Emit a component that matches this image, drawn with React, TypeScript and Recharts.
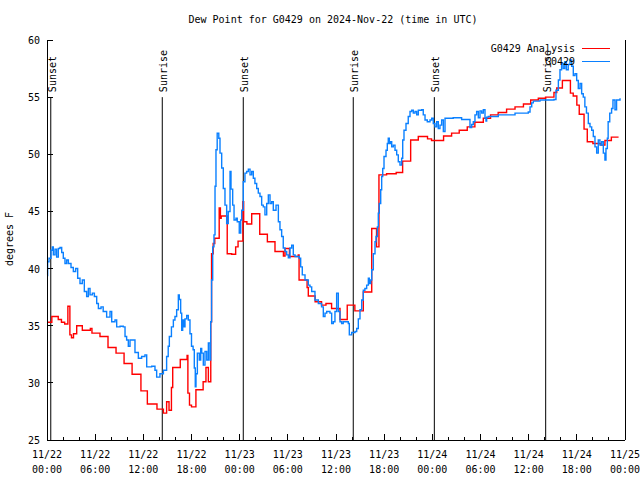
import React from "react";
import { LineChart, Line, XAxis, YAxis, ReferenceLine } from "recharts";

// hours since 11/22 00:00 UTC, dew point in deg F
const analysis: [number, number][] = [
  [0, 35.3], [0.6, 35.8], [1.4, 35.55], [1.8, 35.3], [2.2, 35.15], [2.6, 36.7],
  [2.85, 34.2], [3.05, 33.95], [3.3, 34.3], [3.7, 35.0], [4.4, 34.6], [5.4, 34.75],
  [5.6, 34.35], [6.6, 34.05], [7.6, 33.1], [8.6, 32.6], [9.6, 31.7], [10.6, 30.75],
  [11.7, 29.3], [12.5, 28.15], [13.7, 27.7], [14.5, 27.35], [14.9, 28.35], [15.2, 27.6],
  [15.5, 29.6], [15.66, 31.35], [16.6, 32.05], [17.45, 32.4], [17.55, 29.1], [17.75, 28.05],
  [18.0, 27.9], [18.55, 29.4], [19.45, 30.1], [19.8, 31.35], [20.1, 30.1], [20.4, 35.35],
  [20.5, 41.3], [20.7, 42.2], [20.9, 42.65], [21.45, 45.3], [21.6, 44.4], [21.7, 44.6],
  [22.45, 41.3], [23.0, 41.25], [23.5, 41.9], [23.8, 42.4], [24.4, 45.85], [24.5, 44.1],
  [24.9, 43.9], [25.5, 44.8], [26.5, 43.0], [27.45, 42.35], [28.4, 41.5], [29.45, 41.1],
  [29.65, 41.75], [30.2, 41.05], [31.3, 41.2], [31.4, 39.0], [32.4, 38.35], [32.55, 37.6],
  [33.4, 37.1], [34.2, 36.8], [34.75, 36.95], [35.45, 36.5], [36.5, 35.55], [37.4, 36.8],
  [38.35, 36.3], [39.4, 37.95], [40.45, 43.5], [41.05, 41.9], [41.35, 48.2], [42.3, 48.3],
  [43.5, 48.4], [44.3, 49.4], [45.3, 51.25], [46.25, 51.55], [47.4, 51.35], [47.9, 51.2],
  [49.4, 51.6], [50.4, 51.85], [51.35, 52.1], [52.35, 52.4], [53.3, 52.8], [54.35, 53.15],
  [55.25, 53.45], [56.2, 53.65], [57.25, 53.95], [58.3, 54.15], [59.35, 54.4], [60.25, 54.75],
  [61.2, 54.9], [62.1, 55.0], [63.15, 55.4], [63.5, 55.8], [64.2, 56.45], [65.2, 55.35],
  [65.55, 55.1], [66.0, 54.3], [66.3, 53.5], [66.9, 52.2], [67.3, 51.1], [68.0, 50.95],
  [69.0, 50.8], [69.5, 51.2], [70.3, 51.5], [71.2, 51.5],
];

const observed: [number, number][] = [
  [0, 39.4], [0.08, 40.6], [0.25, 40.9], [0.5, 41.6], [0.66, 41.9], [0.79, 41.2],
  [1.0, 41.7], [1.2, 41.0], [1.41, 41.75], [1.62, 41.85], [1.83, 41.4], [2.03, 40.9],
  [2.24, 40.45], [2.45, 40.75], [2.66, 40.45], [2.99, 40.1], [3.28, 39.75], [3.57, 40.0],
  [3.82, 39.15], [4.11, 38.7], [4.4, 39.0], [4.65, 38.0], [4.94, 37.55], [5.15, 38.25],
  [5.36, 37.7], [5.65, 37.85], [5.9, 37.55], [6.19, 36.95], [6.4, 36.5], [6.73, 36.65],
  [7.0, 36.25], [7.43, 35.75], [7.85, 36.25], [8.06, 35.35], [8.47, 35.5], [8.68, 34.9],
  [9.1, 34.95], [9.5, 34.9], [9.72, 34.05], [9.92, 33.75], [10.13, 33.2], [10.34, 33.75],
  [10.75, 33.75], [10.96, 32.65], [11.38, 32.15], [11.79, 32.3], [12.2, 32.45], [12.42, 31.4],
  [13.04, 31.45], [13.45, 31.1], [13.66, 30.5], [14.07, 30.8], [14.5, 31.1], [14.9, 32.3],
  [15.1, 33.2], [15.24, 34.05], [15.5, 34.9], [15.74, 35.5], [15.94, 35.8], [16.15, 36.4],
  [16.36, 37.7], [16.48, 37.3], [16.65, 36.1], [16.78, 34.6], [16.9, 35.5], [17.07, 34.9],
  [17.19, 35.6], [17.4, 35.9], [17.6, 35.5], [17.81, 34.3], [18.0, 33.2], [18.2, 32.9],
  [18.35, 31.3], [18.47, 29.65], [18.56, 30.8], [18.73, 32.6], [18.97, 32.0], [19.15, 33.0],
  [19.27, 32.6], [19.47, 31.55], [19.68, 32.75], [19.9, 32.0], [20.1, 33.5], [20.3, 32.0],
  [20.39, 35.35], [20.5, 39.0], [20.64, 41.9], [20.8, 42.95], [20.93, 47.2], [21.05, 50.4],
  [21.2, 51.85], [21.4, 51.4], [21.55, 50.1], [21.76, 48.8], [21.96, 47.0], [22.17, 45.55],
  [22.38, 43.95], [22.58, 45.0], [22.8, 48.5], [22.92, 46.95], [23.13, 45.55], [23.3, 44.25],
  [23.54, 44.4], [23.7, 44.1], [23.95, 43.1], [24.13, 44.25], [24.25, 45.1], [24.45, 47.6],
  [24.66, 48.35], [24.87, 48.5], [25.08, 48.7], [25.29, 48.2], [25.5, 48.5], [25.7, 47.9],
  [25.9, 47.45], [26.12, 47.0], [26.32, 46.6], [26.53, 46.3], [26.74, 45.55], [26.94, 45.4],
  [27.15, 44.7], [27.37, 45.7], [27.57, 46.45], [27.78, 45.7], [27.99, 45.85], [28.19, 45.1],
  [28.53, 45.55], [28.82, 44.1], [29.02, 43.4], [29.23, 42.8], [29.43, 41.8], [29.65, 41.5],
  [29.86, 41.2], [30.06, 40.95], [30.27, 41.8], [30.48, 42.05], [30.68, 41.2], [30.9, 41.05],
  [31.1, 41.05], [31.43, 40.9], [31.6, 40.15], [31.8, 39.45], [32.14, 39.0], [32.55, 38.55],
  [32.76, 38.4], [32.97, 38.0], [33.38, 37.25], [33.8, 36.95], [34.2, 36.65], [34.42, 35.8],
  [34.63, 36.1], [34.84, 36.25], [35.25, 36.1], [35.46, 35.2], [35.66, 35.35], [35.87, 36.25],
  [36.08, 37.85], [36.29, 36.25], [36.5, 35.35], [36.7, 35.2], [36.9, 35.35], [37.33, 35.35],
  [37.53, 35.2], [37.66, 34.2], [37.95, 34.4], [38.37, 34.5], [38.58, 34.75], [38.78, 35.6],
  [38.99, 36.4], [39.2, 37.25], [39.4, 38.1], [39.6, 38.25], [39.82, 38.55], [40.03, 39.15],
  [40.15, 38.7], [40.32, 39.0], [40.45, 39.9], [40.65, 41.3], [40.86, 42.35], [40.98, 42.8],
  [41.15, 43.65], [41.27, 44.85], [41.39, 45.7], [41.57, 46.9], [41.69, 48.05], [41.82, 48.75],
  [41.98, 49.8], [42.23, 50.35], [42.39, 50.95], [42.51, 51.4], [42.64, 50.95], [42.81, 51.1],
  [42.94, 50.65], [43.14, 50.8], [43.35, 50.35], [43.56, 49.95], [43.76, 49.35], [43.97, 49.05],
  [44.18, 49.65], [44.31, 51.25], [44.47, 52.1], [44.72, 52.7], [45.0, 53.3], [45.22, 53.75],
  [45.43, 53.85], [45.63, 53.6], [45.84, 53.75], [46.05, 53.45], [46.25, 53.85], [46.67, 53.9],
  [46.87, 53.45], [47.09, 53.0], [47.37, 52.85], [47.71, 53.0], [47.92, 53.15], [48.12, 52.7],
  [48.33, 52.4], [48.54, 52.85], [48.74, 52.25], [48.95, 52.55], [49.16, 53.0], [49.37, 52.0],
  [49.58, 53.15], [49.99, 53.15], [50.6, 53.2], [51.45, 53.2], [51.65, 53.05], [52.48, 53.05],
  [52.69, 52.35], [52.9, 52.6], [53.1, 52.85], [53.31, 53.45], [53.52, 53.75], [53.73, 53.2],
  [53.94, 53.8], [54.15, 53.6], [54.35, 53.9], [54.56, 53.15], [54.68, 52.9], [54.77, 53.25],
  [54.97, 53.3], [55.8, 53.3], [56.22, 53.45], [57.26, 53.45], [58.3, 53.6], [59.33, 53.6],
  [59.95, 53.7], [60.17, 54.15], [60.38, 54.5], [60.58, 54.65], [61.41, 54.75], [62.25, 54.75],
  [62.66, 54.75], [63.15, 54.8], [63.4, 55.6], [63.7, 56.5], [63.9, 57.4], [64.1, 57.95],
  [64.3, 57.5], [64.5, 58.1], [64.7, 57.4], [64.93, 57.85], [65.15, 58.25], [65.36, 57.7],
  [65.56, 56.9], [65.77, 57.05], [65.98, 56.45], [66.18, 55.75], [66.4, 56.2], [66.6, 55.3],
  [66.8, 55.0], [67.0, 54.15], [67.2, 53.6], [67.43, 52.7], [67.64, 52.4], [67.85, 52.1],
  [68.05, 51.55], [68.26, 50.65], [68.47, 50.1], [68.67, 51.25], [68.88, 50.8], [69.1, 51.1],
  [69.3, 50.1], [69.5, 49.5], [69.63, 50.5], [69.8, 51.4], [69.9, 52.85], [70.1, 53.6],
  [70.33, 54.0], [70.5, 54.75], [70.75, 53.9], [70.95, 54.75], [71.16, 54.75], [71.38, 54.9],
];

const hourTicks = [0, 2, 4, 6, 8, 10, 12, 14, 16, 18, 20, 22, 24, 26, 28, 30, 32, 34, 36, 38, 40, 42, 44, 46, 48, 50, 52, 54, 56, 58, 60, 62, 64, 66, 68, 70, 72];
const labelHours = [0, 6, 12, 18, 24, 30, 36, 42, 48, 54, 60, 66, 72];
const dayLabels = ["11/22", "11/22", "11/22", "11/22", "11/23", "11/23", "11/23", "11/23", "11/24", "11/24", "11/24", "11/24", "11/25"];
const timeLabels = ["00:00", "06:00", "12:00", "18:00", "00:00", "06:00", "12:00", "18:00", "00:00", "06:00", "12:00", "18:00", "00:00"];
const dewTicks = [25, 30, 35, 40, 45, 50, 55, 60];

const sunEvents = [
  { h: 0.47, name: "Sunset" },
  { h: 14.36, name: "Sunrise" },
  { h: 24.45, name: "Sunset" },
  { h: 38.15, name: "Sunrise" },
  { h: 48.25, name: "Sunset" },
  { h: 62.12, name: "Sunrise" },
];

const analysisData = analysis.map(([h, v]) => ({ h, v }));
const observedData = observed.map(([h, v]) => ({ h, v }));

const FONT = "'DejaVu Sans Mono', monospace";
const RED = "#ff0000";
const BLUE = "#0a80ff";

function BottomTick({ x, y, payload }: any) {
  const i = labelHours.indexOf(payload.value);
  return (
    <g>
      <line x1={x} y1={y} x2={x} y2={y - (i >= 0 ? 6 : 3)} stroke="#000" shapeRendering="crispEdges" />
      {i >= 0 && (
        <text textAnchor="middle" fontSize={10} fontFamily={FONT} fill="#000">
          <tspan x={x} y={y + 18}>{dayLabels[i]}</tspan>
          <tspan x={x} y={y + 33}>{timeLabels[i]}</tspan>
        </text>
      )}
    </g>
  );
}

function TopTick({ x, y, payload }: any) {
  const major = labelHours.includes(payload.value);
  return <line x1={x} y1={y} x2={x} y2={y + (major ? 6 : 3)} stroke="#000" shapeRendering="crispEdges" />;
}

function LeftTick({ x, y, payload }: any) {
  return (
    <g>
      <line x1={x} y1={y} x2={x + 6} y2={y} stroke="#000" shapeRendering="crispEdges" />
      <text x={x - 7} y={y + 4} textAnchor="end" fontSize={10} fontFamily={FONT} fill="#000">
        {payload.value}
      </text>
    </g>
  );
}

function RightTick({ x, y }: any) {
  return <line x1={x} y1={y} x2={x - 6} y2={y} stroke="#000" shapeRendering="crispEdges" />;
}

function sunLabel(name: string) {
  return (props: any) => {
    const { x, y } = props.viewBox;
    return (
      <text
        transform={`translate(${x + 5},${y - 5}) rotate(-90)`}
        textAnchor="start"
        fontSize={10}
        fontFamily={FONT}
        fill="#000"
      >
        {name}
      </text>
    );
  };
}

export default function App() {
  return (
    <div style={{ position: "absolute", left: 0, top: 0, width: 640, height: 480, background: "#fff" }}>
      <div
        style={{
          position: "absolute", left: 0, top: 14, width: 666, textAlign: "center",
          fontFamily: FONT, fontSize: 10, lineHeight: "12px",
        }}
      >
        Dew Point for G0429 on 2024-Nov-22 (time in UTC)
      </div>
      <div
        style={{
          position: "absolute", left: 10, top: 239, transform: "translate(-50%, -50%) rotate(-90deg)",
          fontFamily: FONT, fontSize: 10, lineHeight: "12px", whiteSpace: "nowrap",
        }}
      >
        degrees F
      </div>
      <LineChart width={640} height={480} data={analysisData} margin={{ top: 40, right: 0, bottom: 0, left: 0 }}>
        <XAxis
          dataKey="h"
          type="number"
          domain={[0, 72]}
          ticks={hourTicks}
          interval={0}
          height={40}
          tickSize={0}
          tickMargin={0}
          tickLine={false}
          axisLine={{ stroke: "#000", shapeRendering: "crispEdges" }}
          tick={<BottomTick />}
        />
        <XAxis
          xAxisId="top"
          orientation="top"
          dataKey="h"
          type="number"
          domain={[0, 72]}
          ticks={hourTicks}
          interval={0}
          height={0}
          tickSize={0}
          tickMargin={0}
          tickLine={false}
          axisLine={{ stroke: "#000", shapeRendering: "crispEdges" }}
          tick={<TopTick />}
        />
        <YAxis
          type="number"
          domain={[25, 60]}
          ticks={dewTicks}
          interval={0}
          width={47}
          tickSize={0}
          tickMargin={0}
          tickLine={false}
          axisLine={{ stroke: "#000", shapeRendering: "crispEdges" }}
          tick={<LeftTick />}
        />
        <YAxis
          yAxisId="r"
          orientation="right"
          type="number"
          domain={[25, 60]}
          ticks={dewTicks}
          interval={0}
          width={15}
          tickSize={0}
          tickMargin={0}
          tickLine={false}
          axisLine={{ stroke: "#000", shapeRendering: "crispEdges" }}
          tick={<RightTick />}
        />
        {sunEvents.map((s) => (
          <ReferenceLine
            key={s.h}
            segment={[{ x: s.h, y: 55 }, { x: s.h, y: 25 }]}
            stroke="#000"
            strokeWidth={1}
            label={sunLabel(s.name)}
          />
        ))}
        <Line
          data={analysisData}
          dataKey="v"
          type="stepAfter"
          stroke={RED}
          strokeWidth={1.4}
          dot={false}
          activeDot={false}
          isAnimationActive={false}
        />
        <Line
          data={observedData}
          dataKey="v"
          type="stepAfter"
          stroke={BLUE}
          strokeWidth={1.4}
          dot={false}
          activeDot={false}
          isAnimationActive={false}
        />
      </LineChart>
      <div style={{ position: "absolute", left: 0, top: 0, width: 640, height: 480, pointerEvents: "none", fontFamily: FONT, fontSize: 10 }}>
        <div style={{ position: "absolute", right: 65, top: 43, lineHeight: "12px", whiteSpace: "nowrap" }}>G0429 Analysis</div>
        <div style={{ position: "absolute", left: 582, top: 48, width: 28, height: 1, background: RED }} />
        <div style={{ position: "absolute", right: 65, top: 56, lineHeight: "12px", whiteSpace: "nowrap" }}>G0429</div>
        <div style={{ position: "absolute", left: 582, top: 61, width: 28, height: 1, background: BLUE }} />
      </div>
    </div>
  );
}
